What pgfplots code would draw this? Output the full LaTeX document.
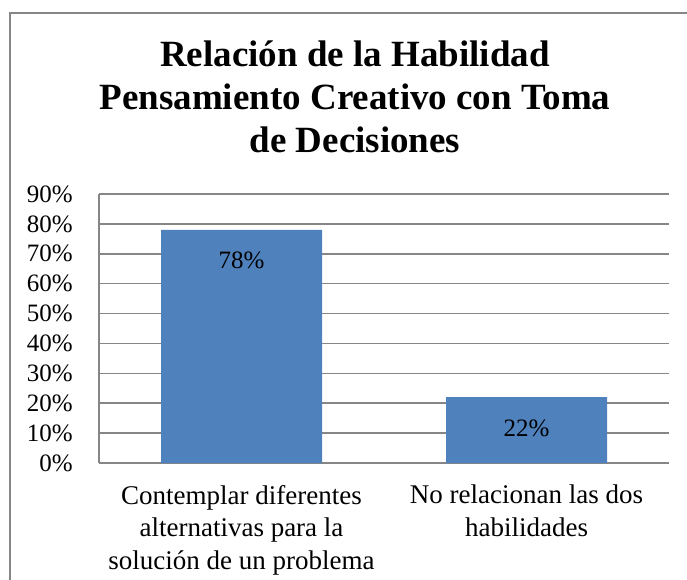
\documentclass[border=0pt]{standalone}
\usepackage{fontspec}
\setmainfont{Liberation Serif}
\usepackage{pgfplots}
\pgfplotsset{compat=1.18}
\definecolor{barblue}{RGB}{79,129,189}
\definecolor{gridgray}{RGB}{134,134,134}
\begin{document}
\begin{tikzpicture}[x=1pt,y=1pt]
\path[use as bounding box] (0,0) rectangle (687,580);
\draw[gridgray, line width=1.5pt] (10,0) -- (10,567) -- (687,567);
\node[anchor=base, font=\fontsize{37}{43}\selectfont\bfseries] at (355,513) {Relación de la Habilidad};
\node[anchor=base, font=\fontsize{37}{43}\selectfont\bfseries] at (355,470) {Pensamiento Creativo con Toma};
\node[anchor=base, font=\fontsize{37}{43}\selectfont\bfseries] at (355,427) {de Decisiones};
\begin{axis}[
  /pgf/number format/assume math mode=true,
  at={(99pt,117pt)}, anchor=south west,
  width=570pt, height=269pt, scale only axis,
  xmin=-0.5, xmax=1.5, ymin=0, ymax=90,
  ybar, bar width=161pt,
  axis line style={gridgray, line width=1.5pt},
  axis x line*=bottom, axis y line*=left,
  ymajorgrids, grid style={gridgray, line width=1.5pt},
  ytick={0,10,...,90},
  yticklabels={0\%,10\%,20\%,30\%,40\%,50\%,60\%,70\%,80\%,90\%},
  xtick={0,1},
  xticklabels={{Contemplar diferentes\\alternativas para la\\solución de un problema},{No relacionan las dos\\habilidades}},
  major tick length=0pt,
  yticklabel style={font=\fontsize{25}{30}\selectfont, inner sep=0pt, xshift=-26pt},
  xticklabel style={font=\fontsize{27}{32.5}\selectfont, align=center, inner sep=0pt, yshift=-22pt},
  nodes near coords={\pgfmathprintnumber{\pgfplotspointmeta}\%},
  every node near coord/.append style={anchor=north, inner sep=0pt, yshift=-22pt, font=\fontsize{25}{30}\selectfont, text=black},
]
\addplot[fill=barblue, draw=none] coordinates {(0,78) (1,22)};
\end{axis}
\end{tikzpicture}
\end{document}
